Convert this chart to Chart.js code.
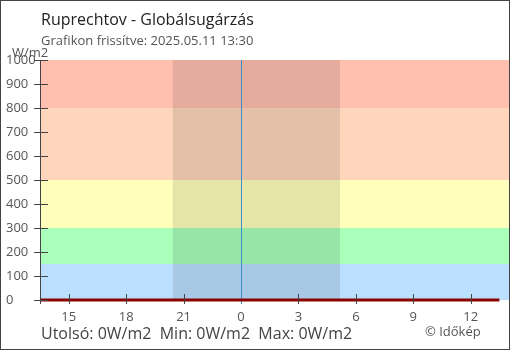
<!DOCTYPE html>
<html>
<head>
<meta charset="utf-8">
<script src="https://cdn.jsdelivr.net/npm/chart.js@4"></script>
<style>
  html, body { margin: 0; padding: 0; background: #fff; }
  #wrap { position: relative; width: 510px; height: 350px; overflow: hidden; font-family: "Open Sans", sans-serif; }
  canvas { position: absolute; left: 0; top: 0; }
  .txt { position: absolute; white-space: nowrap; line-height: 1; }
  #title { left: 41px; top: 11px; font-size: 16px; color: #222; }
  #subtitle { left: 41px; top: 34px; font-size: 13px; color: #555; }
  #unit { left: 12px; top: 46px; font-size: 13px; color: #555; }
  #footer { left: 41px; top: 325px; font-size: 16px; color: #444; }
  #credit { left: 425px; top: 325px; font-size: 13px; color: #555; }
</style>
</head>
<body>
<div id="wrap">
  <canvas id="c" width="510" height="350"></canvas>
  <div class="txt" id="title">Ruprechtov - Globálsugárzás</div>
  <div class="txt" id="subtitle">Grafikon frissítve: 2025.05.11 13:30</div>
  <div class="txt" id="unit">W/m2</div>
  <div class="txt" id="footer">Utolsó: 0W/m2&nbsp; Min: 0W/m2&nbsp; Max: 0W/m2</div>
  <div class="txt" id="credit">© Időkép</div>
</div>
<script>
// Time axis: hours counted from previous-day midnight (24 = midnight)
const hours = [13.5, 14.5, 15.5, 16.5, 17.5, 18.5, 19.5, 20.5, 21.5, 22.5, 23.5, 24.5, 25.5,
               26.5, 27.5, 28.5, 29.5, 30.5, 31.5, 32.5, 33.5, 34.5, 35.5, 36.5, 37.5];
const radiation = [0, 0, 0, 0, 0, 0, 0, 0, 0, 0, 0, 0, 0,
                   0, 0, 0, 0, 0, 0, 0, 0, 0, 0, 0, 0];
const xTickValues = [15, 18, 21, 24, 27, 30, 33, 36];
const xTickLabels = ['15', '18', '21', '0', '3', '6', '9', '12'];
const yTickValues = [0, 100, 200, 300, 400, 500, 600, 700, 800, 900, 1000];
const bandEdges = [0, 150, 300, 500, 800, 1000];
const bandColors = ['#bbe0ff', '#aaffbb', '#ffffbb', '#ffd6bb', '#ffc0b0'];
const night = [20.43, 29.17];
const midnight = 24;
const xRange = [13.5, 38];

const bgPlugin = {
  id: 'bg',
  beforeDatasetsDraw(chart) {
    const { ctx, chartArea: a, scales: { x, y } } = chart;
    ctx.save();
    for (let i = 0; i < bandColors.length; i++) {
      const y1 = y.getPixelForValue(bandEdges[i + 1]);
      const y0 = y.getPixelForValue(bandEdges[i]);
      ctx.fillStyle = bandColors[i];
      ctx.fillRect(a.left, y1, a.right - a.left, y0 - y1);
    }
    const nx0 = x.getPixelForValue(night[0]);
    const nx1 = x.getPixelForValue(night[1]);
    ctx.fillStyle = 'rgba(0,0,0,0.1)';
    ctx.fillRect(nx0, a.top, nx1 - nx0, a.bottom - a.top);
    const mx = Math.round(x.getPixelForValue(midnight)) + 0.5;
    ctx.strokeStyle = '#3a8fd0';
    ctx.lineWidth = 1;
    ctx.beginPath();
    ctx.moveTo(mx, a.top);
    ctx.lineTo(mx, a.bottom + 4);
    ctx.stroke();
    ctx.restore();
  },
  afterDraw(chart) {
    const { ctx, chartArea: a, scales: { x, y } } = chart;
    ctx.save();
    ctx.strokeStyle = '#444';
    ctx.lineWidth = 1;
    ctx.beginPath();
    ctx.moveTo(a.left + 0.5, a.top);
    ctx.lineTo(a.left + 0.5, a.bottom + 4);
    yTickValues.forEach(v => {
      const py = Math.round(y.getPixelForValue(v)) + 0.5;
      ctx.moveTo(a.left - 6, py);
      ctx.lineTo(a.left + 8, py);
    });
    xTickValues.forEach(v => {
      if (v === midnight) return;
      const px = Math.round(x.getPixelForValue(v)) + 0.5;
      ctx.moveTo(px, a.bottom - 6);
      ctx.lineTo(px, a.bottom + 4);
    });
    ctx.stroke();
    ctx.strokeStyle = '#444';
    ctx.strokeRect(0.5, 0.5, chart.width - 1, chart.height - 1);
    ctx.restore();
  }
};

new Chart(document.getElementById('c'), {
  type: 'line',
  data: {
    datasets: [{
      data: hours.map((h, i) => ({ x: h, y: radiation[i] })),
      borderColor: '#8b0000',
      borderWidth: 3,
      pointRadius: 0,
      tension: 0,
      clip: false
    }]
  },
  options: {
    responsive: false,
    animation: false,
    events: [],
    layout: { padding: { top: 60, right: 1, left: 6, bottom: 0 } },
    plugins: { legend: { display: false }, tooltip: { enabled: false } },
    scales: {
      x: {
        type: 'linear',
        min: xRange[0], max: xRange[1],
        grid: { display: false },
        border: { display: false },
        afterFit(s) { s.height = 50; },
        afterBuildTicks(s) { s.ticks = xTickValues.map(v => ({ value: v })); },
        ticks: {
          autoSkip: false, maxRotation: 0, padding: 1,
          color: '#555', font: { family: 'Open Sans', size: 13 },
          callback(v) { const i = xTickValues.indexOf(v); return i >= 0 ? xTickLabels[i] : ''; }
        }
      },
      y: {
        min: 0, max: 1000,
        grid: { display: false },
        border: { display: false },
        afterFit(s) { s.width = 34; },
        afterBuildTicks(s) { s.ticks = yTickValues.map(v => ({ value: v })); },
        ticks: {
          crossAlign: 'far', padding: 0,
          color: '#555', font: { family: 'Open Sans', size: 13 },
          callback(v) { return String(v); }
        }
      }
    }
  },
  plugins: [bgPlugin]
});
</script>
</body>
</html>
